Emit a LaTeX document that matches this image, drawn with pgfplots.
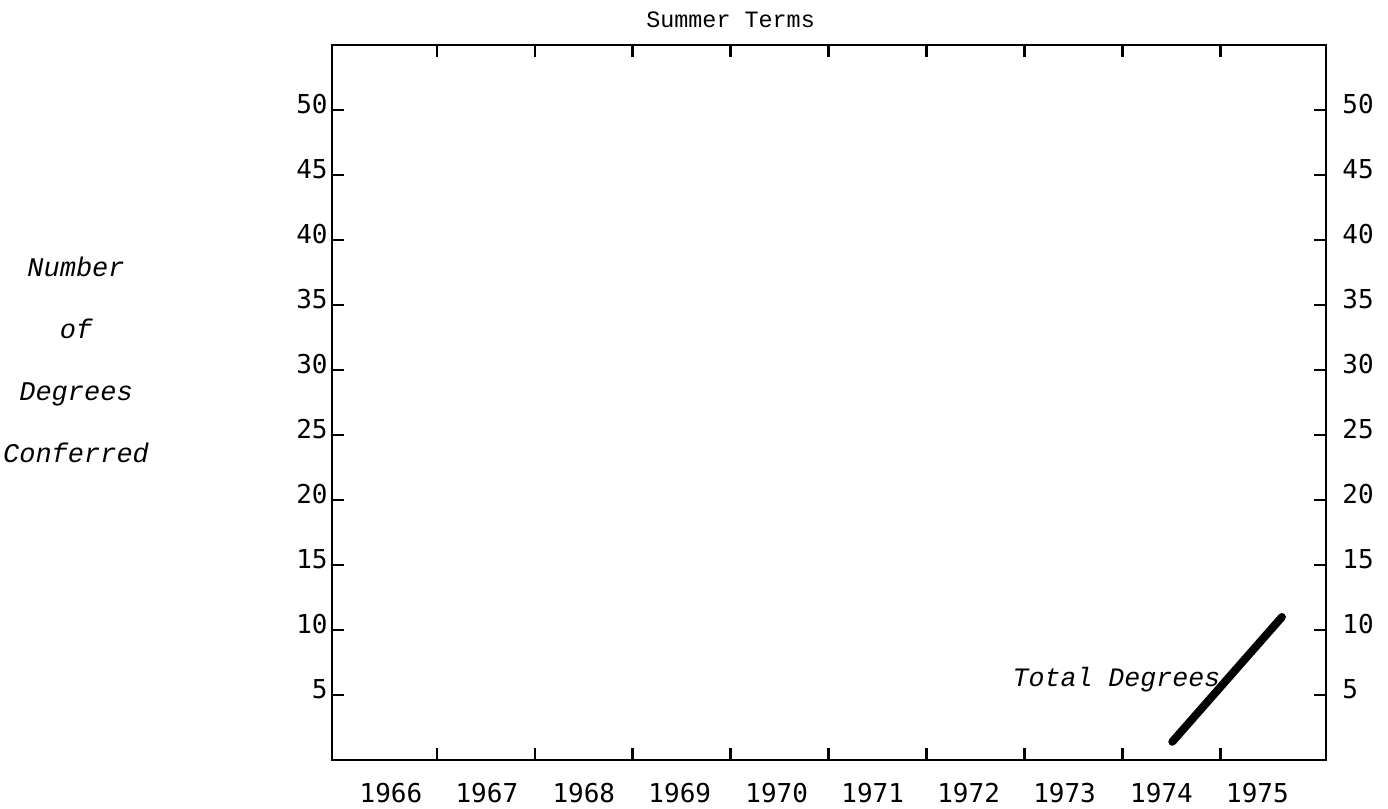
\documentclass[border=0pt]{standalone}
\usepackage{fontspec}
\usepackage{pgfplots}
\usepackage{pgfplotstable}
\pgfplotsset{compat=1.18}
\setmainfont{Liberation Mono}
\newfontfamily\gothic{DejaVu Sans Mono}
\newfontfamily\tw{Liberation Mono}

\pgfplotstableread{
x y
8.01 1.4
9.13 11.0
}\totaldeg

\begin{document}
\begin{tikzpicture}
\path[use as bounding box] (-166pt,-24.5pt) rectangle (528pt,380pt);
\pgfplotsset{common/.style={
  scale only axis, width=497pt, height=357.5pt,
  xmin=-0.572, xmax=9.58, ymin=0, ymax=55,
  axis line style={line width=1.4pt},
  every tick/.style={black, line width=1.3pt},
  major tick length=6pt, minor tick length=6pt, tick align=inside,
  clip=false,
  /pgf/number format/assume math mode=true,
  ticklabel style={font=\gothic\fontsize{13}{13}\selectfont},
  ytick={5,10,...,50},
}}
\begin{axis}[common,
  xtick={0.5,1.5,...,8.5}, xticklabels={},
  extra x ticks={0.03,1.01,2.00,2.98,3.97,4.95,5.93,6.91,7.90,8.88},
  extra x tick labels={1966,1967,1968,1969,1970,1971,1972,1973,1974,1975},
  extra x tick style={major tick length=0pt, xticklabel style={yshift=-8pt}},
  yticklabel pos=left,
  yticklabel style={inner sep=0pt, xshift=-2pt, yshift=3pt},
]
\addplot[black, line width=4pt, line cap=round] table[x=x, y=y] {\totaldeg};
\node[font=\tw\itshape\fontsize{13.3}{16}\selectfont] at (axis cs:7.44,6.15) {Total Degrees};
\node[font=\tw\fontsize{11.7}{14}\selectfont] at (rel axis cs:0.401,1) [yshift=12.5pt] {Summer Terms};
\node[font=\tw\itshape\fontsize{13.5}{31}\selectfont, align=center] at (rel axis cs:-0.2575,0.559) {Number\\of\\Degrees\\Conferred};
\end{axis}
\begin{axis}[common,
  hide x axis,
  axis y line*=right,
  y axis line style={draw=none},
  major tick length=0pt,
  yticklabel pos=right,
  yticklabel style={inner sep=0pt, xshift=8pt, yshift=3pt},
]
\end{axis}
\end{tikzpicture}
\end{document}
